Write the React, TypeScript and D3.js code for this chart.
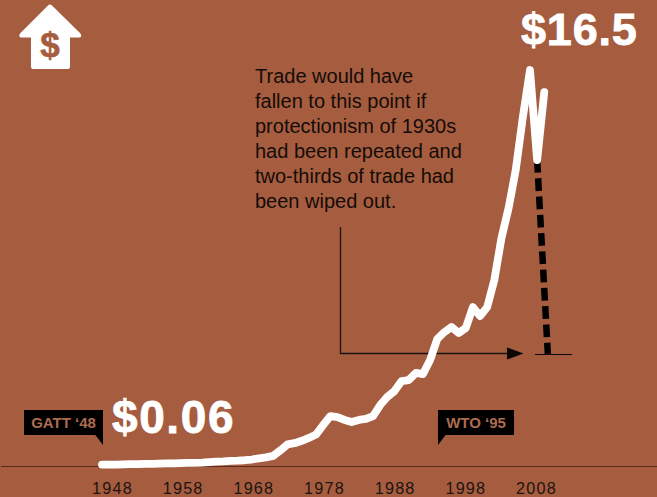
import { useEffect, useRef } from "react";
import * as d3 from "d3";

const years = d3.range(1948, 2011);
// world merchandise trade, $ trillions
const tradeValues = [
  0.06, 0.06, 0.06, 0.07, 0.08, 0.08, 0.09, 0.09, 0.1, 0.11, 0.11, 0.12, 0.13,
  0.13, 0.14, 0.16, 0.18, 0.19, 0.21, 0.22, 0.24, 0.27, 0.32, 0.36, 0.42, 0.65,
  0.9, 0.95, 1.05, 1.17, 1.31, 1.7, 2.08, 2.04, 1.92, 1.83, 1.92, 1.96, 2.08,
  2.54, 2.88, 3.12, 3.54, 3.58, 3.88, 3.83, 4.42, 5.29, 5.58, 5.79, 5.54, 5.75,
  6.62, 6.25, 6.62, 7.75, 9.5, 10.75, 12.33, 14.54, 16.5, 12.75, 15.58,
];
const projectionYears = [2009, 2010.5];
const projectionValues = [12.75, 4.67];
const tickYears = [1948, 1958, 1968, 1978, 1988, 1998, 2008];
const noteLines = [
  "Trade would have",
  "fallen to this point if",
  "protectionism of 1930s",
  "had been repeated and",
  "two-thirds of trade had",
  "been wiped out.",
];

const BG = "#a65c3f";
const WIDTH = 657;
const HEIGHT = 497;

export default function App() {
  const svgRef = useRef<SVGSVGElement>(null);

  useEffect(() => {
    if (!svgRef.current) return;

    const svg = d3.select(svgRef.current);
    svg.selectAll("*").remove();

    const x = d3.scaleLinear().domain([1948, 2008]).range([102, 530]);
    const y = d3.scaleLinear().domain([0, 16.5]).range([466, 70]);
    // tick labels sit slightly off the data positions in the original
    const tickX = d3.scaleLinear().domain([1948, 2008]).range([112, 536]);

    svg
      .append("rect")
      .attr("width", WIDTH)
      .attr("height", HEIGHT)
      .attr("fill", BG);

    // baseline
    svg
      .append("line")
      .attr("x1", 1)
      .attr("x2", WIDTH)
      .attr("y1", y(0) + 0.5)
      .attr("y2", y(0) + 0.5)
      .attr("stroke", "#5a2c1a")
      .attr("stroke-width", 1);

    const axis = svg
      .append("g")
      .attr("transform", `translate(0,${y(0) + 13})`)
      .call(
        d3
          .axisBottom(tickX)
          .tickValues(tickYears)
          .tickSize(0)
          .tickFormat(d3.format("d") as any),
      );
    axis.select(".domain").remove();
    axis
      .selectAll("text")
      .attr("fill", "#1c1410")
      .attr("font-size", 16.2)
      .attr("letter-spacing", 1.2)
      .attr("font-family", "'Liberation Sans', sans-serif");

    // annotation arrow
    svg
      .append("path")
      .attr("d", "M340.5,227V353.5H510")
      .attr("fill", "none")
      .attr("stroke", "#1c1410")
      .attr("stroke-width", 1.3);
    svg
      .append("path")
      .attr("d", "M507,347.5L523.5,353.5L507,359.5Z")
      .attr("fill", "#0c0806");
    svg
      .append("line")
      .attr("x1", 535)
      .attr("x2", 572)
      .attr("y1", 354.5)
      .attr("y2", 354.5)
      .attr("stroke", "#0c0806")
      .attr("stroke-width", 1.2);

    // what-if drop, dashed
    const projLine = d3
      .line<number>()
      .x((d) => x(d))
      .y((_, i) => y(projectionValues[i]));
    svg
      .append("path")
      .attr("d", projLine(projectionYears))
      .attr("fill", "none")
      .attr("stroke", "#000")
      .attr("stroke-width", 6.5)
      .attr("stroke-dasharray", "12.7 5.6");

    // trade line
    const line = d3
      .line<number>()
      .x((d) => x(d))
      .y((_, i) => y(tradeValues[i]));
    svg
      .append("path")
      .attr("d", line(years))
      .attr("fill", "none")
      .attr("stroke", "#fff")
      .attr("stroke-width", 7.8)
      .attr("stroke-linecap", "round")
      .attr("stroke-linejoin", "round");

    // note
    svg
      .append("text")
      .attr("font-family", "'Liberation Sans', sans-serif")
      .attr("font-size", 20)
      .attr("fill", "#140c08")
      .selectAll("tspan")
      .data(noteLines)
      .enter()
      .append("tspan")
      .attr("x", 255)
      .attr("y", (_, i) => 83 + i * 25)
      .text((d) => d);

    // big values
    const big = [
      { label: "$16.5", left: 521, base: 45, size: 45, spacing: 0.8 },
      { label: "$0.06", left: 112, base: 433, size: 46, spacing: 1.6 },
    ];
    svg
      .selectAll("text.big")
      .data(big)
      .enter()
      .append("text")
      .attr("class", "big")
      .attr("x", (d) => d.left)
      .attr("y", (d) => d.base)
      .attr("font-family", "'Liberation Sans', sans-serif")
      .attr("font-weight", "bold")
      .attr("font-size", (d) => d.size)
      .attr("letter-spacing", (d) => d.spacing)
      .attr("fill", "#fff")
      .attr("stroke", "#fff")
      .attr("stroke-width", 0.8)
      .text((d) => d.label);

    // event flags
    const flags = [
      {
        label: "GATT \u201848",
        left: 24,
        width: 79,
        tail: "M95,434.5H103V445Z",
      },
      {
        label: "WTO \u201895",
        left: 438,
        width: 76,
        tail: "M438,434.5H446L438,445Z",
      },
    ];
    flags.forEach((f) => {
      svg
        .append("rect")
        .attr("x", f.left)
        .attr("y", 410)
        .attr("width", f.width)
        .attr("height", 25)
        .attr("fill", "#000");
      svg.append("path").attr("d", f.tail).attr("fill", "#000");
      svg
        .append("text")
        .attr("x", f.left + f.width / 2)
        .attr("y", 428)
        .attr("text-anchor", "middle")
        .attr("font-family", "'Liberation Sans', sans-serif")
        .attr("font-weight", "bold")
        .attr("font-size", 15)
        .attr("fill", "#ad6b50")
        .text(f.label);
    });

    // house icon
    svg
      .append("path")
      .attr(
        "d",
        "M50,4.5Q51,4.5 52,5.5L80.5,33.5Q82.5,37.5 79,37.5H70V67Q70,69 68,69H33Q31,69 31,67V37.5H21.5Q18,37.5 20,33.5L48,5.5Q49,4.5 50,4.5Z",
      )
      .attr("fill", "#fff");
    svg
      .append("text")
      .attr("x", 50)
      .attr("y", 57)
      .attr("text-anchor", "middle")
      .attr("font-family", "'Liberation Sans', sans-serif")
      .attr("font-weight", "bold")
      .attr("font-size", 35)
      .attr("fill", BG)
      .attr("stroke", BG)
      .attr("stroke-width", 0.6)
      .text("$");
  }, []);

  return (
    <svg
      ref={svgRef}
      width={WIDTH}
      height={HEIGHT}
      style={{ position: "absolute", left: 0, top: 0, display: "block" }}
    />
  );
}
